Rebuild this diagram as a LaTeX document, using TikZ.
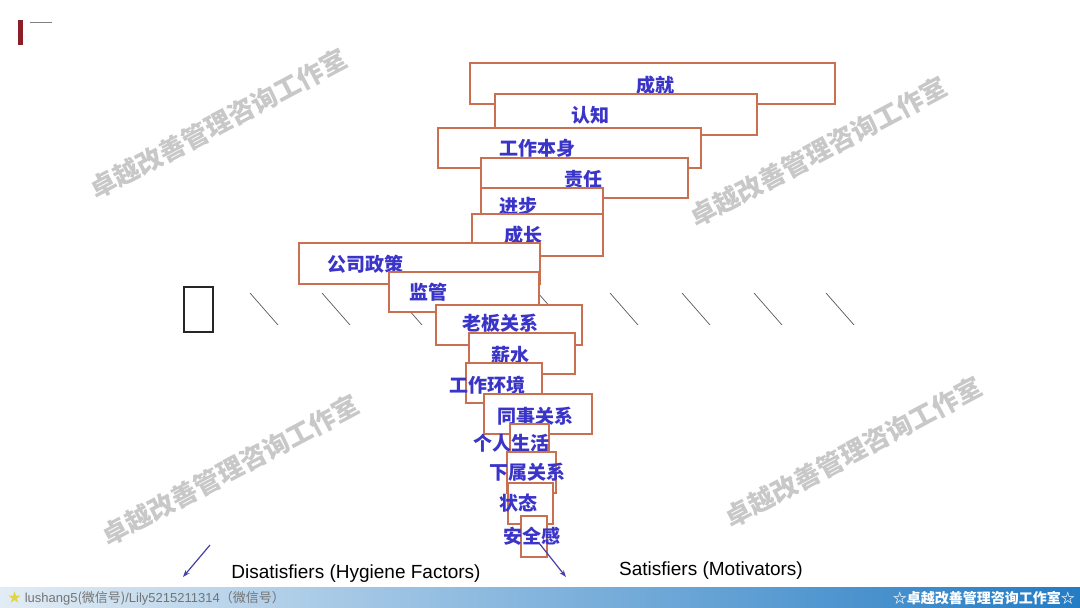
\documentclass[tikz,border=0pt]{standalone}
\usepackage{fontspec}
\usetikzlibrary{arrows.meta}
\setmainfont{Liberation Sans}
\newfontfamily\cjk{Noto Sans CJK SC}
\definecolor{boxline}{RGB}{200,112,80}
\definecolor{fblue}{RGB}{58,52,200}
\definecolor{arrblue}{RGB}{70,62,170}
\definecolor{barred}{RGB}{140,30,40}
\definecolor{bandlight}{RGB}{226,236,245}
\definecolor{bandmid}{RGB}{160,200,232}
\definecolor{banddark}{RGB}{36,124,196}
\definecolor{wmark}{RGB}{200,200,200}

\begin{document}
\begin{tikzpicture}[x=1pt,y=-1pt,>={Stealth[length=7pt,width=5pt]},
    fbox/.style={draw=boxline,line width=1.2pt,fill=white,inner sep=0pt},
    flabel/.style={text=fblue,font=\cjk\bfseries\fontsize{19}{19}\selectfont,inner sep=0pt},
    eng/.style={font=\fontsize{19}{19}\selectfont,inner sep=0pt},
    wm/.style={text=wmark,font=\cjk\bfseries\fontsize{26}{26}\selectfont,rotate=28,inner sep=0pt},
    arr/.style={->,line width=1.2pt,arrblue}]
    % Page
    \fill[white] (0,0) rectangle (1080,608);
    \useasboundingbox (0,0) rectangle (1080,608);

    % Corner mark
    \fill[barred] (18,20) rectangle (23,45);
    \draw[gray,line width=0.6pt] (30,22) -- (52,22);

    % Watermarks
    \node[wm] (wm1) at (218,124) {卓越改善管理咨询工作室};
    \node[wm] (wm2) at (818,152) {卓越改善管理咨询工作室};
    \node[wm] (wm3) at (230,470) {卓越改善管理咨询工作室};
    \node[wm] (wm4) at (853,452) {卓越改善管理咨询工作室};

    % Left box
    \node[draw=black!85,line width=1.2pt,minimum width=29pt,minimum height=45pt,inner sep=0pt] (zero) at (198.5,309.5) {};

    % Divider marks
    \foreach \i in {0,...,8}
        \draw[gray!70!black,line width=0.7pt] (250+72*\i,293) -- (278+72*\i,325);

    % Satisfiers
    \node[fbox,minimum width=365pt,minimum height=41pt] (b1) at (652.5,83.5) {};
    \node[flabel] (t1) at (655,85) {成就};
    \node[fbox,minimum width=262pt,minimum height=41pt] (b2) at (626,114.5) {};
    \node[flabel] (t2) at (590,115) {认知};
    \node[fbox,minimum width=263pt,minimum height=40pt] (b3) at (569.5,148) {};
    \node[flabel] (t3) at (537,148) {工作本身};
    \node[fbox,minimum width=207pt,minimum height=40pt] (b4) at (584.5,178) {};
    \node[flabel] (t4) at (583,179) {责任};
    \node[fbox,minimum width=122pt,minimum height=40pt] (b5) at (542,208) {};
    \node[flabel] (t5) at (518,206) {进步};
    \node[fbox,minimum width=131pt,minimum height=42pt] (b6) at (537.5,235) {};
    \node[flabel] (t6) at (523,235) {成长};

    % Dissatisfiers
    \node[fbox,minimum width=241pt,minimum height=41pt] (b7) at (419.5,263.5) {};
    \node[flabel] (t7) at (365,264) {公司政策};
    \node[fbox,minimum width=150pt,minimum height=40pt] (b8) at (464,292) {};
    \node[flabel] (t8) at (428,292) {监管};
    \node[fbox,minimum width=146pt,minimum height=40pt] (b9) at (509,325) {};
    \node[flabel] (t9) at (500,323) {老板关系};
    \node[fbox,minimum width=106pt,minimum height=41pt] (b10) at (522,353.5) {};
    \node[flabel] (t10) at (510,355) {薪水};
    \node[fbox,minimum width=76pt,minimum height=40pt] (b11) at (504,383) {};
    \node[flabel] (t11) at (487,385) {工作环境};
    \node[fbox,minimum width=108pt,minimum height=40pt] (b12) at (538,414) {};
    \node[flabel] (t12) at (535,416) {同事关系};
    \node[fbox,minimum width=39pt,minimum height=40pt] (b13) at (529.5,444) {};
    \node[flabel] (t13) at (511,443) {个人生活};
    \node[fbox,minimum width=49pt,minimum height=41pt] (b14) at (531.5,472.5) {};
    \node[flabel] (t14) at (527,472) {下属关系};
    \node[fbox,minimum width=45pt,minimum height=41pt] (b15) at (530.5,503.5) {};
    \node[flabel] (t15) at (518,503) {状态};
    \node[fbox,minimum width=26pt,minimum height=41pt] (b16) at (534,536.5) {};
    \node[flabel] (t16) at (532,536) {安全感};

    % Arrows
    \coordinate (la1) at (210,545);
    \coordinate (la2) at (183,577);
    \coordinate (ra1) at (539,543);
    \coordinate (ra2) at (566,577);
    \draw[arr] (la1) -- (la2);
    \draw[arr] (ra1) -- (ra2);

    % Labels
    \node[eng] (dis) at (356,574) {Disatisfiers (Hygiene Factors)};
    \node[eng] (sat) at (711,571) {Satisfiers (Motivators)};

    % Footer band
    \shade[left color=bandlight,middle color=bandmid,right color=banddark] (0,587) rectangle (1080,608);
    \node[anchor=west,inner sep=0pt,text=gray!90!black,font=\fontsize{13}{13}\selectfont] (foot1) at (8,598)
        {{\cjk\color{yellow!70!gray}★} lushang5{\cjk (微信号)}/Lily5215211314{\cjk （微信号）}};
    \node[anchor=east,inner sep=0pt,text=white,font=\cjk\bfseries\fontsize{14}{14}\selectfont] (foot2) at (1075,598)
        {☆卓越改善管理咨询工作室☆};
\end{tikzpicture}
\end{document}
